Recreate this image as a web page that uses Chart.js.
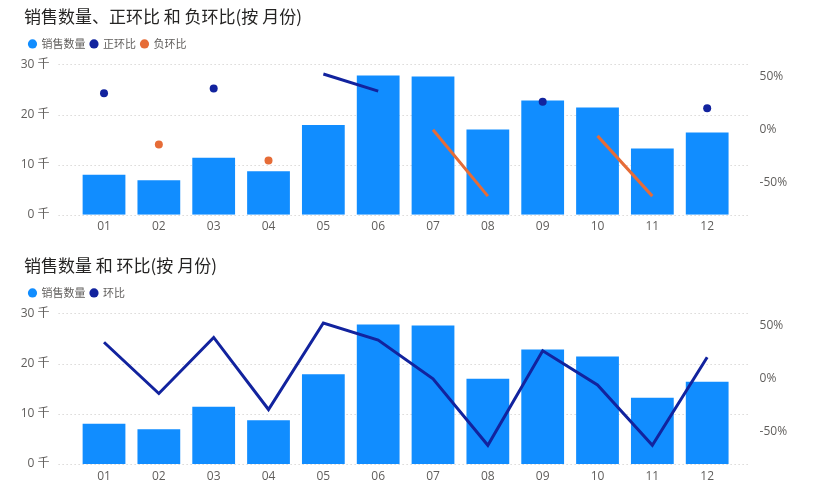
<!DOCTYPE html>
<html>
<head>
<meta charset="utf-8">
<script src="https://cdn.jsdelivr.net/npm/chart.js@4/dist/chart.umd.min.js"></script>
<style>
  html, body { margin: 0; padding: 0; background: #fff; }
  .box { position: relative; width: 818px; }
  #top { height: 249px; }
  #bottom { height: 251px; }
</style>
</head>
<body>
<div class="box" id="top"><canvas id="chartTop"></canvas></div>
<div class="box" id="bottom"><canvas id="chartBottom"></canvas></div>
<script>
  // data
  const months = ["01", "02", "03", "04", "05", "06", "07", "08", "09", "10", "11", "12"];
  const sales = [8000, 6900, 11400, 8700, 17900, 27800, 27600, 17000, 22800, 21400, 13200, 16400];
  const ratio = [0.34, -0.14, 0.385, -0.29, 0.52, 0.36, -0.003, -0.625, 0.26, -0.06, -0.625, 0.2];
  const leftTicks = [0, 10000, 20000, 30000];
  const rightTicks = [-0.5, 0, 0.5];

  const BLUE = "#118DFF";
  const NAVY = "#12239E";
  const ORANGE = "#E66C37";
  const TEXT = "#605E5C";
  const FONT = "'Open Sans', 'Noto Sans CJK SC', sans-serif";
  const TITLE_FONT = "'Noto Sans CJK SC', 'Open Sans', sans-serif";

  const posRatio = ratio.map((v) => (v >= 0 ? v : null));
  const negRatio = ratio.map((v) => (v < 0 ? v : null));

  // show a dot only where a value has no neighbour to draw a line to
  function lonelyRadius(arr) {
    return arr.map((v, i) => {
      if (v === null) return 0;
      const prev = i > 0 ? arr[i - 1] : null;
      const next = i < arr.length - 1 ? arr[i + 1] : null;
      return prev === null && next === null ? 4 : 0;
    });
  }

  // dotted grid that runs a bit past the plot area, like the original
  const dottedGrid = {
    id: "dottedGrid",
    beforeDatasetsDraw(chart) {
      const { ctx, chartArea } = chart;
      const y = chart.scales.y;
      ctx.save();
      ctx.strokeStyle = "#C8C6C4";
      ctx.lineWidth = 1;
      ctx.setLineDash([1, 3]);
      leftTicks.forEach((t) => {
        const py = Math.round(y.getPixelForValue(t)) + 0.5;
        ctx.beginPath();
        ctx.moveTo(chartArea.left - 18, py);
        ctx.lineTo(chartArea.right + 14, py);
        ctx.stroke();
      });
      ctx.restore();
    },
  };

  // a little more room between legend and plot
  const legendGap = {
    id: "legendGap",
    beforeInit(chart) {
      const fit = chart.legend.fit;
      chart.legend.fit = function () {
        fit.call(this);
        this.height += 5;
      };
    },
  };

  function makeChart(id, title, xHeight, lineSets) {
    return new Chart(document.getElementById(id), {
      data: {
        labels: months,
        datasets: [
          {
            type: "bar",
            label: "销售数量",
            data: sales,
            backgroundColor: BLUE,
            borderWidth: 0,
            categoryPercentage: 0.78,
            barPercentage: 1,
            yAxisID: "y",
            order: 2,
          },
          ...lineSets,
        ],
      },
      plugins: [dottedGrid, legendGap],
      options: {
        responsive: true,
        maintainAspectRatio: false,
        animation: false,
        layout: { padding: { left: 24, right: 0, top: 6, bottom: 0 } },
        plugins: {
          title: {
            display: true,
            text: title,
            align: "start",
            color: "#252423",
            font: { family: TITLE_FONT, size: 17, weight: "normal" },
            padding: { top: 0, bottom: 7 },
          },
          legend: {
            display: true,
            align: "start",
            labels: {
              usePointStyle: true,
              pointStyle: "circle",
              boxWidth: 7,
              boxHeight: 6.5,
              padding: 5,
              color: TEXT,
              font: { family: TITLE_FONT, size: 11 },
              generateLabels(chart) {
                return chart.data.datasets.map((ds, i) => ({
                  text: ds.label,
                  fillStyle: ds.type === "bar" ? ds.backgroundColor : ds.borderColor,
                  strokeStyle: ds.type === "bar" ? ds.backgroundColor : ds.borderColor,
                  lineWidth: 0,
                  pointStyle: "circle",
                  fontColor: TEXT,
                  datasetIndex: i,
                }));
              },
            },
          },
          tooltip: { enabled: false },
        },
        scales: {
          x: {
            grid: { display: false, drawTicks: false },
            border: { display: false },
            ticks: { color: TEXT, font: { family: FONT, size: 12 }, padding: 5 },
            afterFit(scale) { scale.height = xHeight; },
          },
          y: {
            position: "left",
            min: 0,
            max: 30000,
            grid: { display: false, drawTicks: false },
            border: { display: false },
            afterBuildTicks(scale) { scale.ticks = leftTicks.map((v) => ({ value: v })); },
            ticks: {
              color: TEXT,
              font: { family: FONT, size: 12 },
              padding: 27,
              callback: (v) => v / 1000 + " 千",
            },
            afterFit(scale) {
              scale.width = 52.6;
              // labels may reach into the left padding; don't clip them
              scale._computeLabelArea = () => undefined;
            },
          },
          y1: {
            position: "right",
            min: -0.8,
            max: 0.61,
            grid: { display: false, drawTicks: false },
            border: { display: false },
            afterBuildTicks(scale) { scale.ticks = rightTicks.map((v) => ({ value: v })); },
            ticks: {
              color: TEXT,
              font: { family: FONT, size: 12 },
              padding: 25,
              callback: (v) => Math.round(v * 100) + "%",
            },
            afterFit(scale) { scale.width = 83.4; },
          },
        },
      },
    });
  }

  makeChart("chartTop", "销售数量、正环比 和 负环比(按 月份)", 34, [
    {
      type: "line",
      label: "正环比",
      data: posRatio,
      borderColor: NAVY,
      backgroundColor: NAVY,
      borderWidth: 3,
      pointRadius: lonelyRadius(posRatio),
      pointBorderWidth: 0,
      spanGaps: false,
      yAxisID: "y1",
      order: 1,
    },
    {
      type: "line",
      label: "负环比",
      data: negRatio,
      borderColor: ORANGE,
      backgroundColor: ORANGE,
      borderWidth: 3,
      pointRadius: lonelyRadius(negRatio),
      pointBorderWidth: 0,
      spanGaps: false,
      yAxisID: "y1",
      order: 1,
    },
  ]);

  makeChart("chartBottom", "销售数量 和 环比(按 月份)", 36, [
    {
      type: "line",
      label: "环比",
      data: ratio,
      borderColor: NAVY,
      backgroundColor: NAVY,
      borderWidth: 3,
      pointRadius: 0,
      yAxisID: "y1",
      order: 1,
    },
  ]);
</script>
</body>
</html>
